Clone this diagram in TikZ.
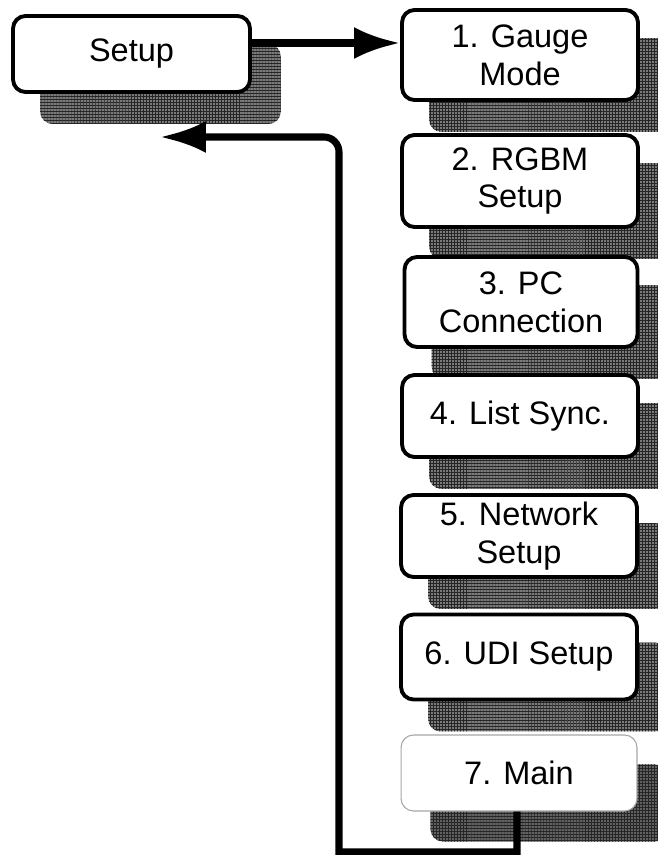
\documentclass[tikz,border=0pt]{standalone}
\usepackage{fontspec}
\setmainfont{Liberation Sans}
\usetikzlibrary{arrows.meta}
\usetikzlibrary{patterns.meta}
\tikzset{>={Latex[length=9.2mm,width=6.4mm]}}
\tikzdeclarepattern{
  name=shadowgrid,
  type=uncolored,
  bottom left={(-.1pt,-.1pt)},
  top right={(1.8pt,1.8pt)},
  tile size={(1.7pt,1.7pt)},
  code={\draw[line width=0.5pt] (0,0) -- (1.7pt,0) (0,0) -- (0,1.7pt);}
}
\tikzstyle{menubox}=[draw=black,line width=2.2pt,rounded corners=2.5mm,fill=white,
  minimum width=4.72cm,inner sep=2pt,align=center,
  font=\fontsize{18.5}{21.5}\selectfont]
\tikzstyle{lastbox}=[menubox,draw=gray!70,line width=0.6pt]
\tikzstyle{shadowbox}=[fill=black!52,rounded corners=2.5mm,
  postaction={pattern=shadowgrid,pattern color=black!85}]
\tikzstyle{flowline}=[draw=black,line width=4pt]
\pgfdeclarelayer{back}
\pgfsetlayers{back,main}

\begin{document}
\begin{tikzpicture}[x=0.02cm,y=-0.02cm]
  \useasboundingbox (0,0) rectangle (657,855);
  \node[menubox,minimum width=4.74cm,minimum height=1.52cm] (setup) at (131.5,54) {Setup};
  \node[menubox,minimum height=1.8cm] (gauge) at (520,55) {1. Gauge\\Mode};
  \node[menubox,minimum height=1.84cm] (rgbm) at (520,181) {2. RGBM\\Setup};
  \node[menubox,minimum width=4.66cm,minimum height=1.8cm] (pc) at (521,302) {3. PC\\Connection};
  \node[menubox,minimum height=1.64cm] (list) at (520,416) {4. List Sync.};
  \node[menubox,minimum height=1.64cm] (net) at (519,536) {5. Network\\Setup};
  \node[menubox,minimum height=1.7cm] (udi) at (519,657) {6. UDI Setup};
  \node[lastbox,minimum height=1.52cm] (mainbox) at (519,773) {7. Main};

  \begin{pgfonlayer}{back}
    \foreach \n in {setup,gauge,rgbm,pc,list,net,udi}
      \path[shadowbox] ([shift={(29,30)}]\n.north west) rectangle ([shift={(29,30)}]\n.south east);
    \path[shadowbox,fill=black!62] ([shift={(30,30)}]mainbox.north west) rectangle ([shift={(30,30)}]mainbox.south east);
  \end{pgfonlayer}

  \coordinate (back) at (160,137);
  \coordinate (bottom) at (339,852);
  \draw[flowline,->] ([yshift=0.22cm]setup.east) -- ([yshift=0.22cm]setup.east -| gauge.west);
  \draw[flowline,->] ([xshift=-0.04cm]mainbox.south) -- ([xshift=-0.04cm]mainbox.south |- bottom)
    -- (bottom) [rounded corners=3mm] -- (bottom |- back) -- (back);
\end{tikzpicture}
\end{document}
